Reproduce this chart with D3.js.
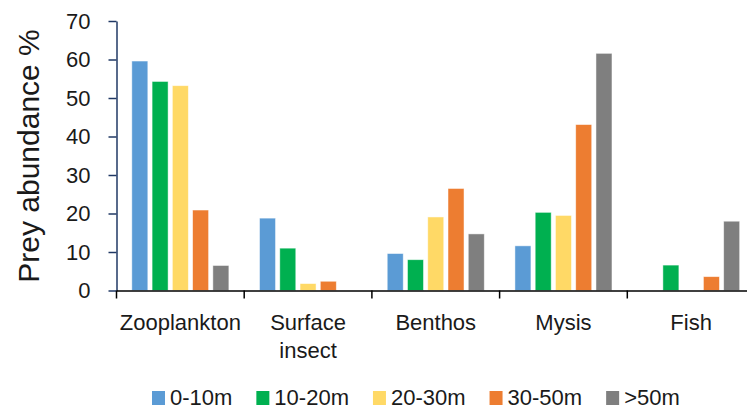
<!DOCTYPE html>
<html>
<head>
<meta charset="utf-8">
<script src="https://cdn.jsdelivr.net/npm/d3@7"></script>
<style>
  html, body { margin: 0; padding: 0; background: #fff; }
  svg { display: block; font-family: "Liberation Sans", Arial, sans-serif; }
</style>
</head>
<body>
<svg id="chart" width="747" height="416"></svg>
<script>
const categories = ["Zooplankton", "Surface insect", "Benthos", "Mysis", "Fish"];
const series = ["0-10m", "10-20m", "20-30m", "30-50m", ">50m"];
const colors = ["#5B9BD5", "#00B050", "#FFD966", "#ED7D31", "#7F7F7F"];
const values0_10 = [59.6, 18.8, 9.6, 11.6, 0];
const values10_20 = [54.3, 11.0, 8.0, 20.3, 6.6];
const values20_30 = [53.2, 1.8, 19.1, 19.5, 0];
const values30_50 = [20.9, 2.4, 26.5, 43.1, 3.6];
const values50 = [6.5, 0, 14.7, 61.6, 18.0];
const yTicks = [0, 10, 20, 30, 40, 50, 60, 70];

const seriesValues = [values0_10, values10_20, values20_30, values30_50, values50];

const svg = d3.select("#chart");
const plotLeft = 116.5, plotBottom = 290.5, plotTop = 21;
const stepW = 127.7;

const x0 = d3.scaleBand().domain(categories)
  .range([plotLeft, plotLeft + stepW * categories.length])
  .paddingInner(0.24).paddingOuter(0.12);
const x1 = d3.scaleBand().domain(series)
  .range([0, x0.bandwidth()])
  .paddingInner(0.21).paddingOuter(0);
const y = d3.scaleLinear().domain([0, 70]).range([plotBottom, plotTop]);

// bars
const groups = svg.append("g").selectAll("g")
  .data(categories).join("g")
  .attr("transform", d => `translate(${x0(d)},0)`);

groups.selectAll("rect")
  .data((c, ci) => series.map((s, si) => ({ s, si, v: seriesValues[si][ci] })).filter(d => d.v > 0))
  .join("rect")
  .attr("x", d => x1(d.s))
  .attr("width", x1.bandwidth())
  .attr("y", d => y(d.v))
  .attr("height", d => y(0) - y(d.v))
  .attr("fill", d => colors[d.si])
  .attr("stroke", "#ffffff")
  .attr("stroke-opacity", 0.6)
  .attr("stroke-width", 0.8);

// y axis
const yAxis = d3.axisLeft(y).tickValues(yTicks).tickSize(8).tickPadding(18).tickSizeOuter(0);
const gy = svg.append("g").attr("transform", `translate(${plotLeft},0)`).call(yAxis);
gy.select(".domain").attr("stroke", "#203864").attr("stroke-width", 1.5);
gy.selectAll(".tick line").attr("stroke", "#203864").attr("stroke-width", 1.5);
gy.selectAll(".tick text").attr("font-size", 22).attr("fill", "#1a1a1a")
  .attr("font-family", "'Liberation Sans', Arial, sans-serif");

// x axis
const xAxis = d3.axisBottom(x0).tickSize(0).tickSizeOuter(0);
const gx = svg.append("g").attr("transform", `translate(0,${plotBottom})`).call(xAxis);
gx.select(".domain").attr("stroke", "#000").attr("stroke-width", 1.5);
gx.selectAll(".tick text").remove();
// category boundary ticks
const boundaries = categories.map(c => x0(c) - x0.step() * x0.paddingOuter());
gx.selectAll(".bt").data(boundaries).join("line")
  .attr("class", "bt")
  .attr("x1", d => d).attr("x2", d => d)
  .attr("y1", 0).attr("y2", 8)
  .attr("stroke", "#000").attr("stroke-width", 1.5);

// category labels
const labelG = svg.append("g");
categories.forEach(c => {
  const words = c === "Surface insect" ? ["Surface", "insect"] : [c];
  const t = labelG.append("text")
    .attr("x", x0(c) + x0.bandwidth() / 2)
    .attr("y", 330)
    .attr("text-anchor", "middle")
    .attr("font-size", 22)
    .attr("fill", "#1a1a1a");
  words.forEach((w, i) => {
    t.append("tspan").attr("x", x0(c) + x0.bandwidth() / 2)
      .attr("dy", i === 0 ? 0 : 28).text(w);
  });
});

// y title
svg.append("text")
  .attr("transform", "translate(39,156) rotate(-90)")
  .attr("text-anchor", "middle")
  .attr("font-size", 30)
  .attr("fill", "#1a1a1a")
  .text("Prey abundance %");

// legend
const legend = svg.append("g");
let lx = 152;
series.forEach((s, i) => {
  legend.append("rect")
    .attr("x", lx).attr("y", 391).attr("width", 13).attr("height", 14)
    .attr("fill", colors[i]);
  const t = legend.append("text")
    .attr("x", lx + 18).attr("y", 405)
    .attr("font-size", 22).attr("fill", "#1a1a1a")
    .text(s);
  lx = lx + 18 + t.node().getComputedTextLength() + 24;
});
</script>
</body>
</html>
